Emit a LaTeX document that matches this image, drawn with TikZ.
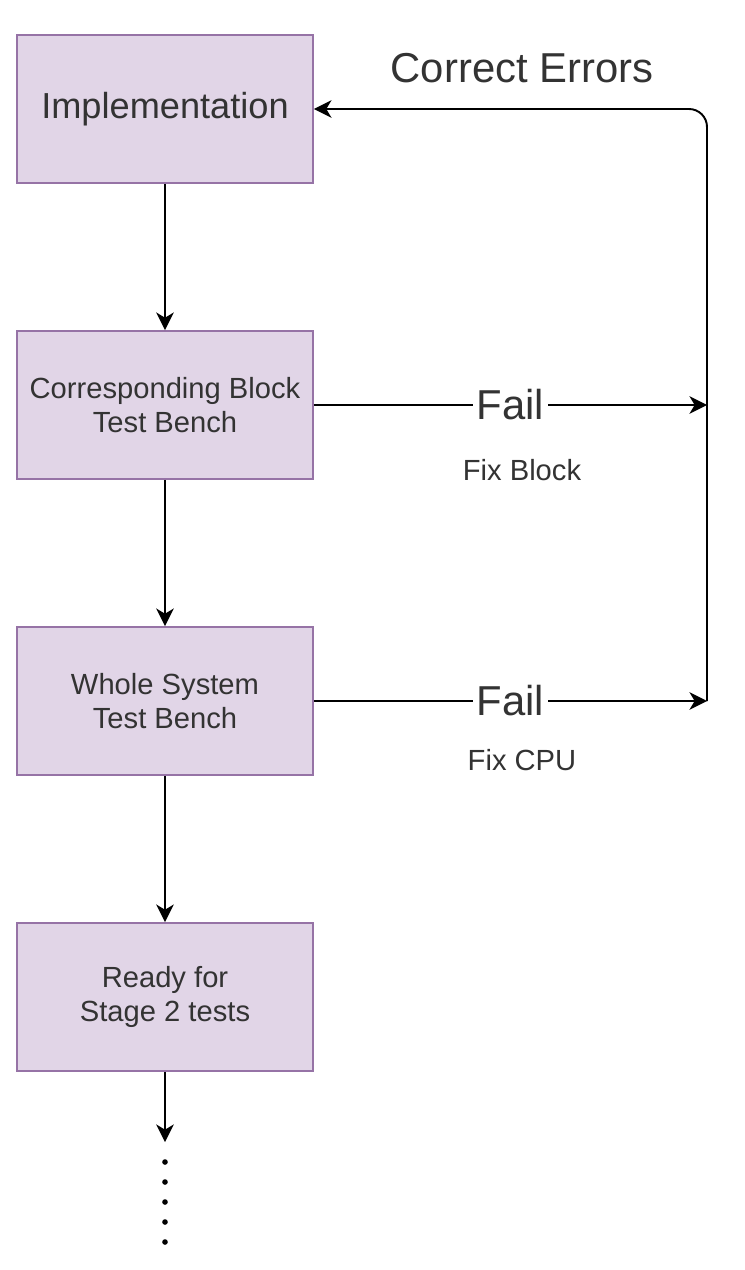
\documentclass[tikz,border=0pt]{standalone}
\usepackage{fontspec}
\setmainfont{Liberation Sans}
\usetikzlibrary{positioning,arrows.meta}
\definecolor{boxfill}{HTML}{E1D5E7}
\definecolor{boxline}{HTML}{9673A6}
\definecolor{txt}{HTML}{333333}

\tikzset{
  stagebox/.style={draw=boxline, fill=boxfill, line width=1.1pt, minimum width=5.92cm,
    minimum height=2.96cm, align=center, text=txt, font=\fontsize{16.6}{19.8}\selectfont},
  arr/.style={line width=1.1pt, -{Stealth[length=10pt, width=10pt, inset=3pt]}},
  faillbl/.style={fill=white, inner xsep=2pt, inner ysep=0pt, text=txt, font=\fontsize{23.8}{26}\selectfont},
  fixlbl/.style={text=txt, font=\fontsize{16.6}{19.8}\selectfont}
}

\begin{document}
\begin{tikzpicture}[x=0.02cm, y=-0.02cm]
  \useasboundingbox (0,0) rectangle (744,1270);
  \node[stagebox, font=\fontsize{20.6}{24}\selectfont] (impl) at (165,109) {Implementation};
  \node[stagebox] (blk) at (165,405) {Corresponding Block\\Test Bench};
  \node[stagebox] (sys) at (165,701) {Whole System\\Test Bench};
  \node[stagebox] (ready) at (165,997) {Ready for\\Stage 2 tests};
  \coordinate (jblk) at (707,405);
  \coordinate (jsys) at (707,701);
  \coordinate (tail) at (165,1142);

  \draw[arr] (impl) -- (blk);
  \draw[arr] (blk) -- (sys);
  \draw[arr] (sys) -- (ready);
  \draw[arr] (ready) -- (tail);
  \foreach \y in {1162,1182,...,1242}
    \fill (165,\y) circle (1.6pt);

  \draw[arr] (blk.east) -- node[faillbl] (failA) {Fail} (jblk);
  \draw[arr] (sys.east) -- node[faillbl] (failB) {Fail} (jsys);
  \draw[arr, rounded corners=0.36cm] (jsys) |- (impl.east);

  \node[faillbl, fill=none] (correct) at (522,68) {Correct Errors};
  \node[fixlbl] (fixblk) at (522,470) {Fix Block};
  \node[fixlbl] (fixcpu) at (522,760) {Fix CPU};
\end{tikzpicture}
\end{document}
